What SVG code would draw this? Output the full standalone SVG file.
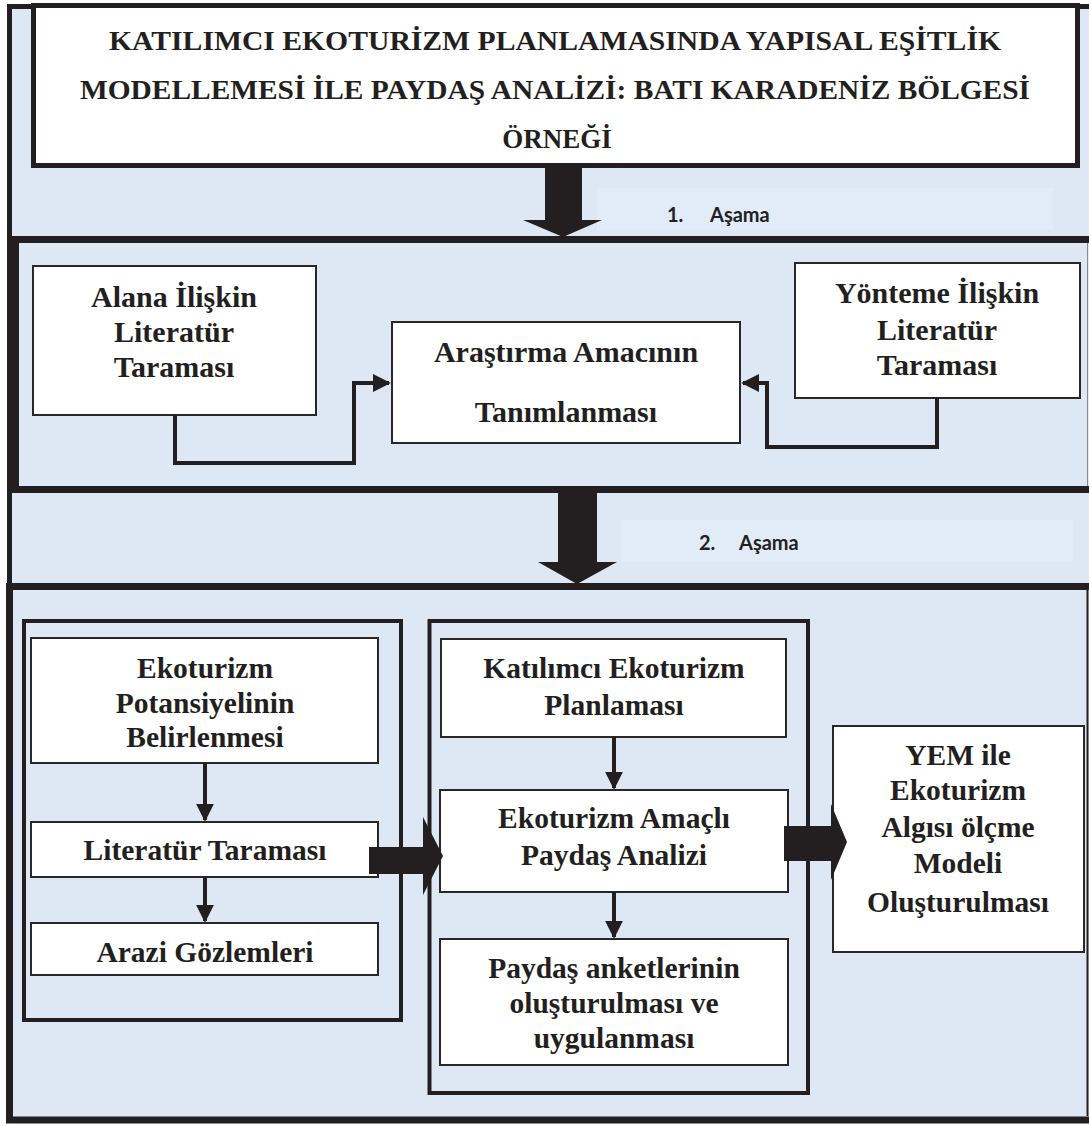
<svg xmlns="http://www.w3.org/2000/svg" width="1089" height="1126" viewBox="0 0 1089 1126">
<defs>
<style>
.t{font-family:"Liberation Serif","Times New Roman",serif;font-weight:bold;fill:#231f20;text-anchor:middle}
.s1{font-size:30px}
.s2{font-size:29.5px}
.lbl{font-family:Lato,"Open Sans",sans-serif;font-weight:bold;font-size:20px;fill:#231f20}
.box{fill:#fff;stroke:#2b2728;stroke-width:2}
.frame{fill:none;stroke:#231f20}
.ln{fill:none;stroke:#231f20;stroke-width:4}
.ar{fill:#231f20}
</style>
<marker id="ah" viewBox="0 0 10 10" refX="9" refY="5" markerWidth="4.5" markerHeight="4.5" orient="auto">
<path d="M0,0 L10,5 L0,10 Z" fill="#231f20"/>
</marker>
</defs>
<rect x="0" y="0" width="1089" height="1126" fill="#ffffff"/>
<rect x="9.5" y="6.5" width="1090" height="1114" fill="#dde8f4"/>

<g id="frames">
<path class="frame" stroke-width="5" d="M9.5,586 V6.5 H1095"/>
<path class="frame" stroke-width="7" d="M1095,239.5 H15.5 V489.5 H1095"/>
<line x1="1087.5" y1="243" x2="1087.5" y2="486" stroke="#8a8a8a" stroke-width="1"/>
<path class="frame" stroke-width="7" d="M1095,586.5 H9.5 V1120 H1095"/>
<line x1="1087.5" y1="590" x2="1087.5" y2="1116" stroke="#231f20" stroke-width="2"/>
<rect x="597" y="188" width="456" height="42" fill="#e2ecf8"/>
<rect x="621" y="520" width="452" height="42" fill="#e2ecf8"/>
<rect x="24" y="621" width="377" height="399" fill="none" stroke="#231f20" stroke-width="4"/>
<rect x="429.5" y="621" width="378.5" height="472" fill="none" stroke="#231f20" stroke-width="4"/>
</g>

<g id="title">
<rect x="33.5" y="5.5" width="1044" height="160" fill="#fff" stroke="#231f20" stroke-width="5"/>
<text class="t" font-size="27" x="555" y="50" textLength="892" lengthAdjust="spacingAndGlyphs">KATILIMCI EKOTURİZM PLANLAMASINDA YAPISAL EŞİTLİK</text>
<text class="t" font-size="27" x="555" y="99" textLength="950" lengthAdjust="spacingAndGlyphs">MODELLEMESİ İLE PAYDAŞ ANALİZİ: BATI KARADENİZ BÖLGESİ</text>
<text class="t" font-size="27" x="557" y="148">ÖRNEĞİ</text>
</g>

<g id="label1"><text class="lbl" x="667" y="222">1.</text><text class="lbl" x="710" y="222">Aşama</text></g>
<g id="label2"><text class="lbl" x="699" y="550">2.</text><text class="lbl" x="739" y="550">Aşama</text></g>

<g id="alana">
<rect class="box" x="33" y="266" width="283" height="149"/>
<text class="t s1" x="174" y="307">Alana İlişkin</text>
<text class="t s1" x="174" y="342">Literatür</text>
<text class="t s1" x="174" y="377">Taraması</text>
</g>
<g id="arastirma">
<rect class="box" x="392" y="322" width="348" height="121"/>
<text class="t s1" x="566" y="362">Araştırma Amacının</text>
<text class="t s1" x="566" y="422">Tanımlanması</text>
</g>
<g id="yonteme">
<rect class="box" x="795" y="263" width="285" height="135"/>
<text class="t s1" x="937" y="303">Yönteme İlişkin</text>
<text class="t s1" x="937" y="340">Literatür</text>
<text class="t s1" x="937" y="375">Taraması</text>
</g>

<g id="potansiyel">
<rect class="box" x="31" y="638" width="347" height="125"/>
<text class="t s2" x="205" y="678">Ekoturizm</text>
<text class="t s2" x="205" y="713">Potansiyelinin</text>
<text class="t s2" x="205" y="747">Belirlenmesi</text>
</g>
<g id="literatur">
<rect class="box" x="31" y="822" width="347" height="55"/>
<text class="t s2" x="205" y="860">Literatür Taraması</text>
</g>
<g id="arazi">
<rect class="box" x="31" y="923" width="347" height="52"/>
<text class="t s2" x="205" y="962">Arazi Gözlemleri</text>
</g>
<g id="katilimci">
<rect class="box" x="441" y="639" width="345" height="98"/>
<text class="t s2" x="614" y="678">Katılımcı Ekoturizm</text>
<text class="t s2" x="614" y="715">Planlaması</text>
</g>
<g id="paydas">
<rect class="box" x="440" y="790" width="348" height="102"/>
<text class="t s2" x="614" y="828">Ekoturizm Amaçlı</text>
<text class="t s2" x="614" y="865">Paydaş Analizi</text>
</g>
<g id="anket">
<rect class="box" x="440" y="939" width="348" height="126"/>
<text class="t s2" x="614" y="978">Paydaş anketlerinin</text>
<text class="t s2" x="614" y="1013">oluşturulması ve</text>
<text class="t s2" x="614" y="1048">uygulanması</text>
</g>
<g id="yem">
<rect class="box" x="833" y="726" width="251" height="226"/>
<text class="t s2" x="958" y="765">YEM ile</text>
<text class="t s2" x="958" y="800">Ekoturizm</text>
<text class="t s2" x="958" y="837">Algısı ölçme</text>
<text class="t s2" x="958" y="873">Modeli</text>
<text class="t s2" x="958" y="912">Oluşturulması</text>
</g>

<g id="connectors">
<polygon class="ar" points="545,165 582,165 582,220 602,220 563,237 523,220 545,220"/>
<polygon class="ar" points="558,493 597,493 597,562 617,562 577,584 538,562 558,562"/>
<path class="ln" d="M175,415 V463 H354 V383 H389" marker-end="url(#ah)"/>
<path class="ln" d="M937,398 V447 H767 V383 H743" marker-end="url(#ah)"/>
<path class="ln" d="M205,763 V820" marker-end="url(#ah)"/>
<path class="ln" d="M205,877 V921" marker-end="url(#ah)"/>
<path class="ln" d="M614,737 V788" marker-end="url(#ah)"/>
<path class="ln" d="M614,892 V937" marker-end="url(#ah)"/>
<polygon class="ar" points="369,847 423,847 423,817 443,856 423,895 423,874 369,874"/>
<polygon class="ar" points="784,826 831,826 831,804 847,842 831,880 831,861 784,861"/>
</g>
</svg>
